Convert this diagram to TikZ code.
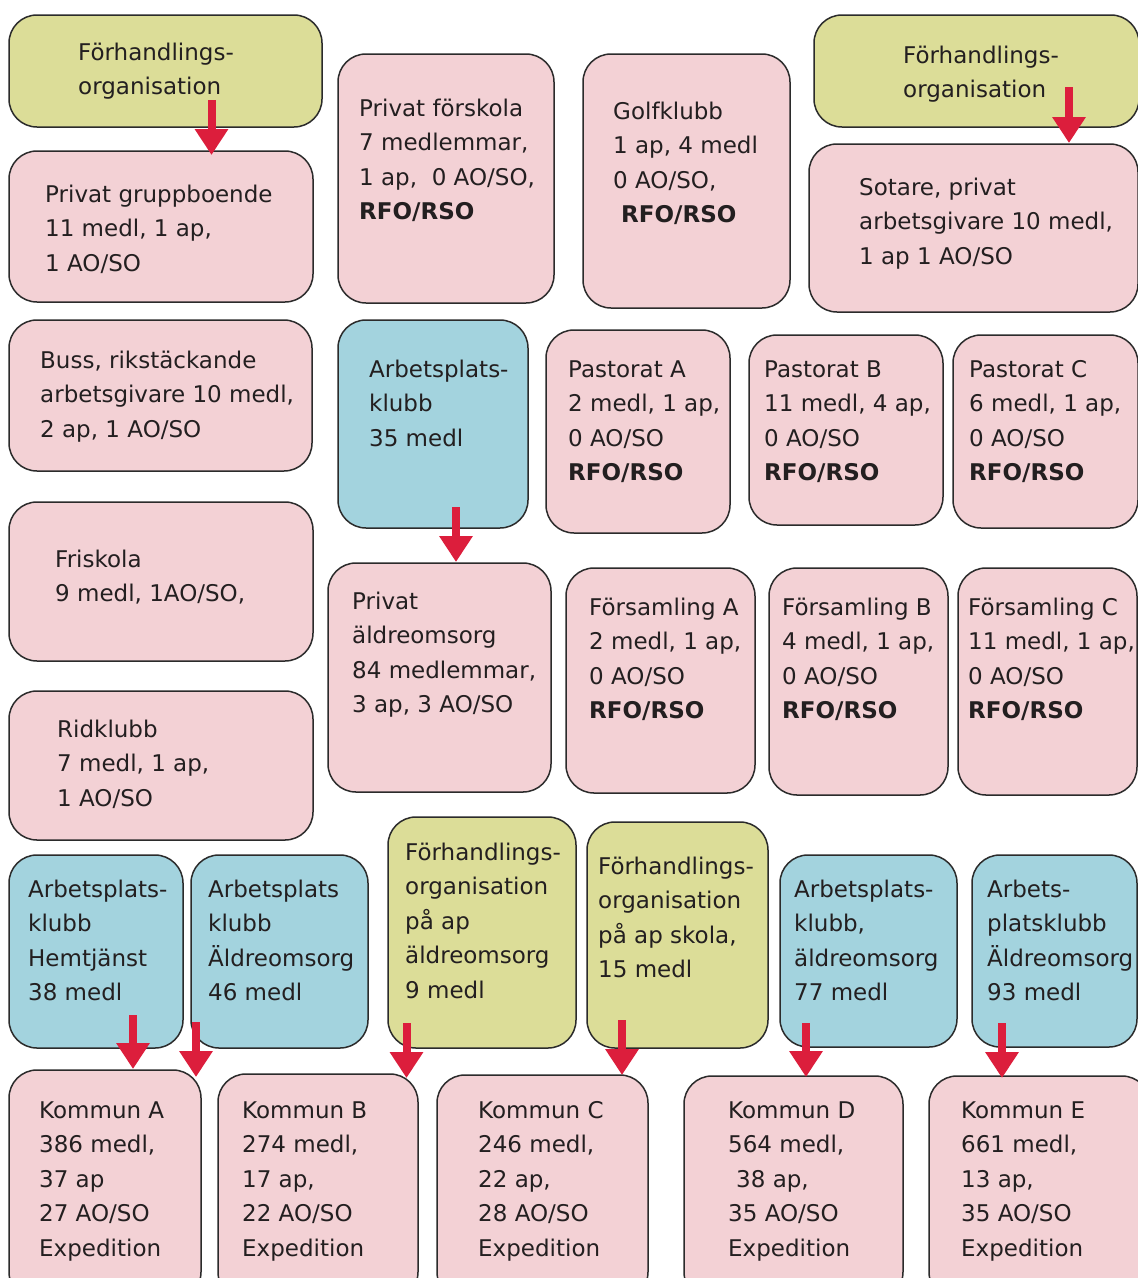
\documentclass[tikz,border=0pt]{standalone}
\usepackage{fontspec}
\setmainfont{DejaVu Sans}
\usetikzlibrary{arrows.meta}
\definecolor{pinkfill}{HTML}{F3D1D5}
\definecolor{greenfill}{HTML}{DCDD98}
\definecolor{bluefill}{HTML}{A3D3DE}
\definecolor{boxline}{HTML}{2B2B2B}
\definecolor{arrowred}{HTML}{DC1E3C}
\definecolor{txtcol}{HTML}{231F20}
\tikzset{
  boxbase/.style={draw=boxline, line width=1.5pt, rounded corners=28pt, inner sep=0pt, rectangle},
  pinkbox/.style={boxbase, fill=pinkfill},
  greenbox/.style={boxbase, fill=greenfill},
  bluebox/.style={boxbase, fill=bluefill},
  txt/.style={anchor=north west, inner sep=0pt, align=left, text=txtcol,
              font=\fontsize{23}{34.5}\selectfont},
  redarrow/.style={draw=arrowred, line width=8pt,
                   -{Triangle[width=32pt,length=26pt]}}
}
\newcommand\bx[9]{%
  \node[#2, minimum width={#5-#3}, minimum height={#6-#4}] (#1) at ({(#3+#5)/2},{(#4+#6)/2}) {};
  \node[txt] (#1t) at (#7,{#8-18}) {\rule{0pt}{18pt}#9};
}
\newcommand\rarrow[4]{%
  \coordinate (#1s) at (#2,#3);
  \coordinate (#1e) at (#2,#4);
  \draw[redarrow] (#1s) -- (#1e);
}
\begin{document}
\begin{tikzpicture}[x=1pt,y=-1pt]
\useasboundingbox (0,0) rectangle (1138,1278);
\fill[white] (0,0) rectangle (1138,1278);

\bx{foa}{greenbox}{9}{15}{322}{127}{78}{60}{Förhandlings-\\organisation}
\bx{pg}{pinkbox}{9}{151}{313}{302}{45}{202}{Privat gruppboende\\11 medl, 1 ap,\\1 AO/SO}
\bx{pf}{pinkbox}{338}{54}{554}{303}{359}{116}{Privat förskola\\7 medlemmar,\\1 ap,\ \ 0 AO/SO,\\\textbf{RFO/RSO}}
\bx{gk}{pinkbox}{583}{54}{790}{308}{613}{119}{Golfklubb\\1 ap, 4 medl\\0 AO/SO,\\\hspace*{8pt}\textbf{RFO/RSO}}
\bx{fob}{greenbox}{814}{15}{1139}{127}{903}{63}{Förhandlings-\\organisation}
\bx{so}{pinkbox}{809}{144}{1138}{312}{859}{195}{Sotare, privat\\arbetsgivare 10 medl,\\1 ap 1 AO/SO}
\bx{bu}{pinkbox}{9}{320}{312}{471}{40}{368}{Buss, rikstäckande\\arbetsgivare 10 medl,\\2 ap, 1 AO/SO}
\bx{ak}{bluebox}{338}{320}{528}{528}{369}{377}{Arbetsplats-\\klubb\\35 medl}
\bx{pa}{pinkbox}{546}{330}{730}{533}{568}{377}{Pastorat A\\2 medl, 1 ap,\\0 AO/SO\\\textbf{RFO/RSO}}
\bx{pb}{pinkbox}{749}{335}{943}{525}{764}{377}{Pastorat B\\11 medl, 4 ap,\\0 AO/SO\\\textbf{RFO/RSO}}
\bx{pc}{pinkbox}{953}{335}{1138}{528}{969}{377}{Pastorat C\\6 medl, 1 ap,\\0 AO/SO\\\textbf{RFO/RSO}}
\bx{fs}{pinkbox}{9}{502}{313}{661}{55}{567}{Friskola\\9 medl, 1AO/SO,}
\bx{pae}{pinkbox}{328}{563}{551}{792}{352}{609}{Privat\\äldreomsorg\\84 medlemmar,\\3 ap, 3 AO/SO}
\bx{fa}{pinkbox}{566}{568}{755}{793}{589}{615}{Församling A\\2 medl, 1 ap,\\0 AO/SO\\\textbf{RFO/RSO}}
\bx{fb}{pinkbox}{769}{568}{948}{795}{782}{615}{Församling B\\4 medl, 1 ap,\\0 AO/SO\\\textbf{RFO/RSO}}
\bx{fc}{pinkbox}{958}{568}{1137}{795}{968}{615}{Församling C\\11 medl, 1 ap,\\0 AO/SO\\\textbf{RFO/RSO}}
\bx{rk}{pinkbox}{9}{691}{313}{840}{57}{737}{Ridklubb\\7 medl, 1 ap,\\1 AO/SO}
\bx{ah}{bluebox}{9}{855}{183}{1048}{28}{897}{Arbetsplats-\\klubb\\Hemtjänst\\38 medl}
\bx{aae}{bluebox}{191}{855}{368}{1048}{208}{897}{Arbetsplats\\klubb\\Äldreomsorg\\46 medl}
\bx{fae}{greenbox}{388}{817}{576}{1048}{405}{860}{Förhandlings-\\organisation\\på ap\\äldreomsorg\\9 medl}
\bx{fsk}{greenbox}{587}{822}{768}{1048}{598}{874}{Förhandlings-\\organisation\\på ap skola,\\15 medl}
\bx{aks}{bluebox}{780}{855}{957}{1047}{794}{897}{Arbetsplats-\\klubb,\\äldreomsorg\\77 medl}
\bx{akn}{bluebox}{972}{855}{1137}{1047}{987}{897}{Arbets-\\platsklubb\\Äldreomsorg\\93 medl}
\bx{ka}{pinkbox}{9}{1070}{201}{1300}{39}{1118}{Kommun A\\386 medl,\\37 ap\\27 AO/SO\\Expedition}
\bx{kb}{pinkbox}{218}{1074}{418}{1300}{242}{1118}{Kommun B\\274 medl,\\17 ap,\\22 AO/SO\\Expedition}
\bx{kc}{pinkbox}{437}{1075}{648}{1300}{478}{1118}{Kommun C\\246 medl,\\22 ap,\\28 AO/SO\\Expedition}
\bx{kd}{pinkbox}{684}{1076}{903}{1300}{728}{1118}{Kommun D\\564 medl,\\\hspace*{8pt}38 ap,\\35 AO/SO\\Expedition}
\bx{ke}{pinkbox}{929}{1076}{1150}{1300}{961}{1118}{Kommun E\\661 medl,\\13 ap,\\35 AO/SO\\Expedition}

\rarrow{ra}{211.5}{100}{155}
\rarrow{rb}{1069}{87}{143}
\rarrow{rc}{456}{507}{562}
\rarrow{rd}{133}{1015}{1069}
\rarrow{re}{196}{1022}{1077}
\rarrow{rf}{406.5}{1023}{1078}
\rarrow{rg}{622}{1020}{1075}
\rarrow{rh}{806}{1023}{1077}
\rarrow{ri}{1002}{1023}{1078}
\end{tikzpicture}
\end{document}
